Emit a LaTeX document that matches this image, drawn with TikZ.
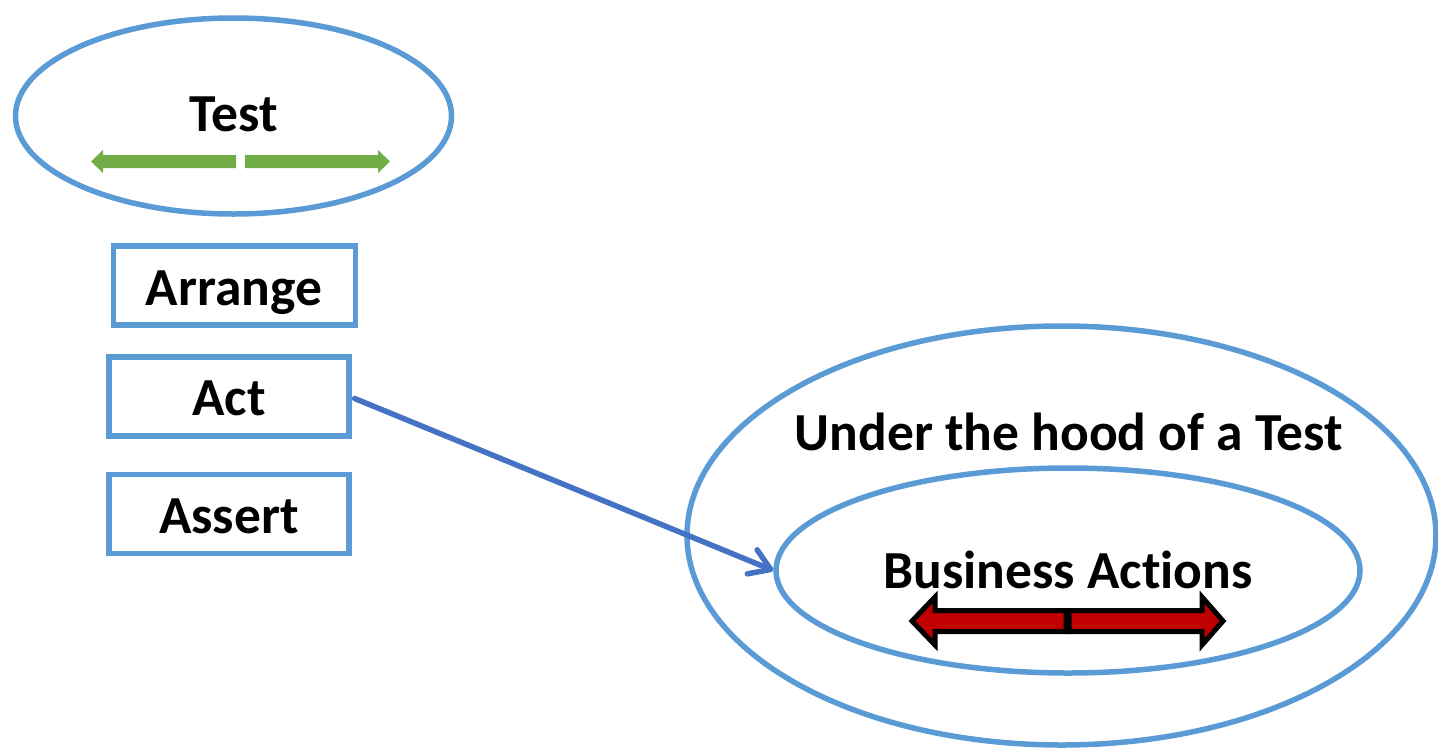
\documentclass[tikz,border=0pt]{standalone}
\usepackage{fontspec}
\setmainfont{Carlito}[Ligatures=NoCommon]
\usetikzlibrary{shapes.geometric,arrows.meta}
\definecolor{frameblue}{HTML}{5B9BD5}
\definecolor{linkblue}{HTML}{4472C4}
\definecolor{okgreen}{HTML}{70AD47}
\definecolor{darkred}{HTML}{C00000}
\tikzset{
  ring/.style={ellipse, draw=frameblue, line width=5.5pt, inner sep=0pt},
  stepbox/.style={rectangle, draw=frameblue, line width=5.5pt, inner sep=0pt},
  label/.style={font=\fontsize{53.5}{60}\selectfont\bfseries, inner sep=0pt, anchor=base},
  greenarrow/.style={fill=okgreen, draw=none},
  redarrow/.style={fill=darkred, draw=black, line width=5pt, line join=miter},
  link/.style={draw=linkblue, line width=5.5pt, line cap=round,
    -{Straight Barb[length=20pt, width=26pt, line width=5.5pt, round]}}
}
\begin{document}
\begin{tikzpicture}[x=1pt, y=-1pt]
\useasboundingbox (0,0) rectangle (1438,748);

% the test itself
\node[ring, minimum width=436pt, minimum height=196pt] (test) at (233.5,116) {};
\node[label] (testlbl) at (234,131) {Test};
\fill[greenarrow] (236,155) -- (103,155) -- (103,150) -- (91,161.5) -- (103,173) -- (103,168) -- (236,168) -- cycle;
\fill[greenarrow] (245,155) -- (378,155) -- (378,150) -- (390,161.5) -- (378,173) -- (378,168) -- (245,168) -- cycle;

% the three phases
\node[stepbox, minimum width=242pt, minimum height=79pt] (arrange) at (234.5,285.5) {};
\node[label] (arrangelbl) at (234,305) {Arrange};
\node[stepbox, minimum width=240pt, minimum height=79pt] (act) at (229,396.5) {};
\node[label] (actlbl) at (229,415) {Act};
\node[stepbox, minimum width=240pt, minimum height=79pt] (assert) at (229,514) {};
\node[label] (assertlbl) at (229,533) {Assert};

% what happens inside
\node[ring, minimum width=749pt, minimum height=419pt] (hood) at (1061.5,535.5) {};
\node[label] (hoodlbl) at (1069,450) {Under the hood of a Test};
\node[ring, minimum width=584pt, minimum height=205pt] (business) at (1068,570.5) {};
\node[label] (businesslbl) at (1068,588) {Business Actions};
\draw[redarrow] (1066,610.5) -- (935,610.5) -- (935,597) -- (912,621) -- (935,645) -- (935,631.5) -- (1066,631.5) -- cycle;
\draw[redarrow] (1069,610.5) -- (1202,610.5) -- (1202,597) -- (1223,621) -- (1202,645) -- (1202,631.5) -- (1069,631.5) -- cycle;

% the act step leads into the business actions
\draw[link] (act.east) ++(3pt,-2pt) coordinate (actout) (actout) -- (business.west);
\end{tikzpicture}
\end{document}
